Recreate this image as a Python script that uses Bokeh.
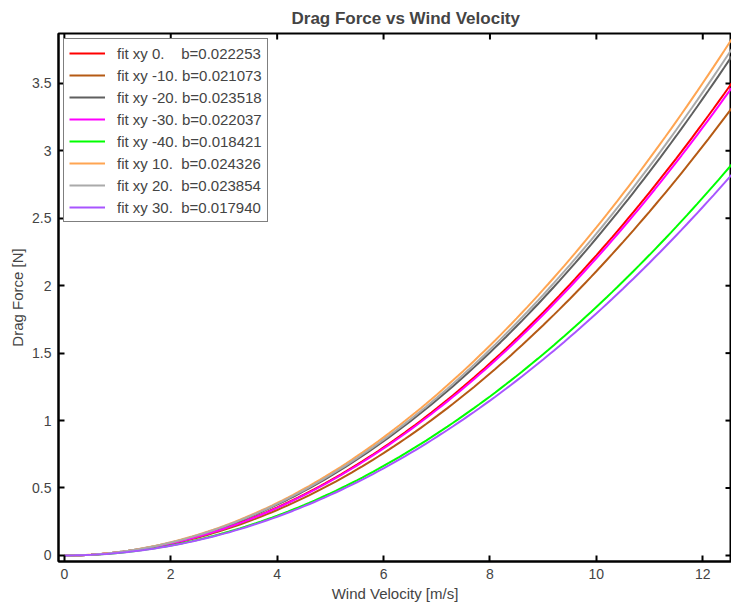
import numpy as np
from bokeh.plotting import figure
from bokeh.models import FixedTicker, CustomJSTickFormatter, Legend, LegendItem, Range1d
from bokeh.embed import file_html
from bokeh.resources import INLINE

NB = "\u00a0"
labels = [
    "fit xy 0." + NB * 4 + "b=0.022253",
    "fit xy -10." + NB + "b=0.021073",
    "fit xy -20." + NB + "b=0.023518",
    "fit xy -30." + NB + "b=0.022037",
    "fit xy -40." + NB + "b=0.018421",
    "fit xy 10." + NB * 2 + "b=0.024326",
    "fit xy 20." + NB * 2 + "b=0.023854",
    "fit xy 30." + NB * 2 + "b=0.017940",
]
b_values = [0.022253, 0.021073, 0.023518, 0.022037, 0.018421, 0.024326, 0.023854, 0.017940]
colors = ["#ff0000", "#b55a14", "#5f5f5f", "#ff00ff", "#00ff00", "#ffa552", "#aaaaaa", "#a855ff"]
x_ticks = [0, 2, 4, 6, 8, 10, 12]
y_ticks = [0, 0.5, 1, 1.5, 2, 2.5, 3, 3.5]
velocity = np.linspace(0, 12.6, 127)

FONT = "Liberation Sans"
X0, X1 = -0.11, 12.54
Y0, Y1 = -0.045, 3.87

p = figure(width=731, height=610, output_backend="svg", toolbar_location=None,
           x_range=Range1d(X0, X1), y_range=Range1d(Y0, Y1),
           x_axis_label="Wind Velocity [m/s]", y_axis_label="Drag Force [N]",
           title="Drag Force vs Wind Velocity",
           min_border_left=58, min_border_top=33, min_border_bottom=49, min_border_right=0)
p.title.align = "left"
p.title.text_font = FONT
p.title.text_font_size = "17px"
p.title.text_font_style = "bold"
p.title.standoff = 12
p.title.offset = 233
p.grid.visible = False
p.outline_line_color = "black"
p.outline_line_width = 2
p.background_fill_color = "white"
p.border_fill_color = "white"

fmt = CustomJSTickFormatter(code="return parseFloat(tick.toFixed(4)).toString();")

for ax, ticks in ((p.xaxis[0], x_ticks), (p.yaxis[0], y_ticks)):
    ax.ticker = FixedTicker(ticks=ticks)
    ax.formatter = fmt
    ax.major_tick_in = 6
    ax.major_tick_out = 0
    ax.minor_tick_line_color = None
    ax.axis_line_width = 2
    ax.major_tick_line_width = 2
    ax.major_label_text_font = FONT
    ax.major_label_text_font_size = "14px"
    ax.axis_label_text_font = FONT
    ax.axis_label_text_font_size = "15px"
    ax.axis_label_text_font_style = "normal"
    ax.major_label_standoff = 7
    ax.axis_label_standoff = 3

# inward tick marks on the top and right frame edges (half of each dash is clipped by the frame)
p.scatter(x_ticks, [Y1] * len(x_ticks), marker="dash", angle=np.pi / 2, size=12,
          line_color="black", line_width=2)
p.scatter([X1] * len(y_ticks), y_ticks, marker="dash", size=12,
          line_color="black", line_width=2)

items = []
for lab, b, c in zip(labels, b_values, colors):
    r = p.line(velocity, b * velocity ** 2, line_color=c, line_width=2)
    items.append(LegendItem(label=lab, renderers=[r]))

legend = Legend(items=items, location="top_left")
legend.border_line_color = "black"
legend.border_line_width = 1.5
legend.label_text_font = FONT
legend.label_text_font_size = "15px"
legend.glyph_width = 36
legend.glyph_height = 18
legend.label_height = 18
legend.spacing = 4
legend.padding = 5
legend.margin = 5
legend.label_standoff = 12
legend.background_fill_alpha = 1
p.add_layout(legend)

open("out.html", "w").write(file_html(p, INLINE))
